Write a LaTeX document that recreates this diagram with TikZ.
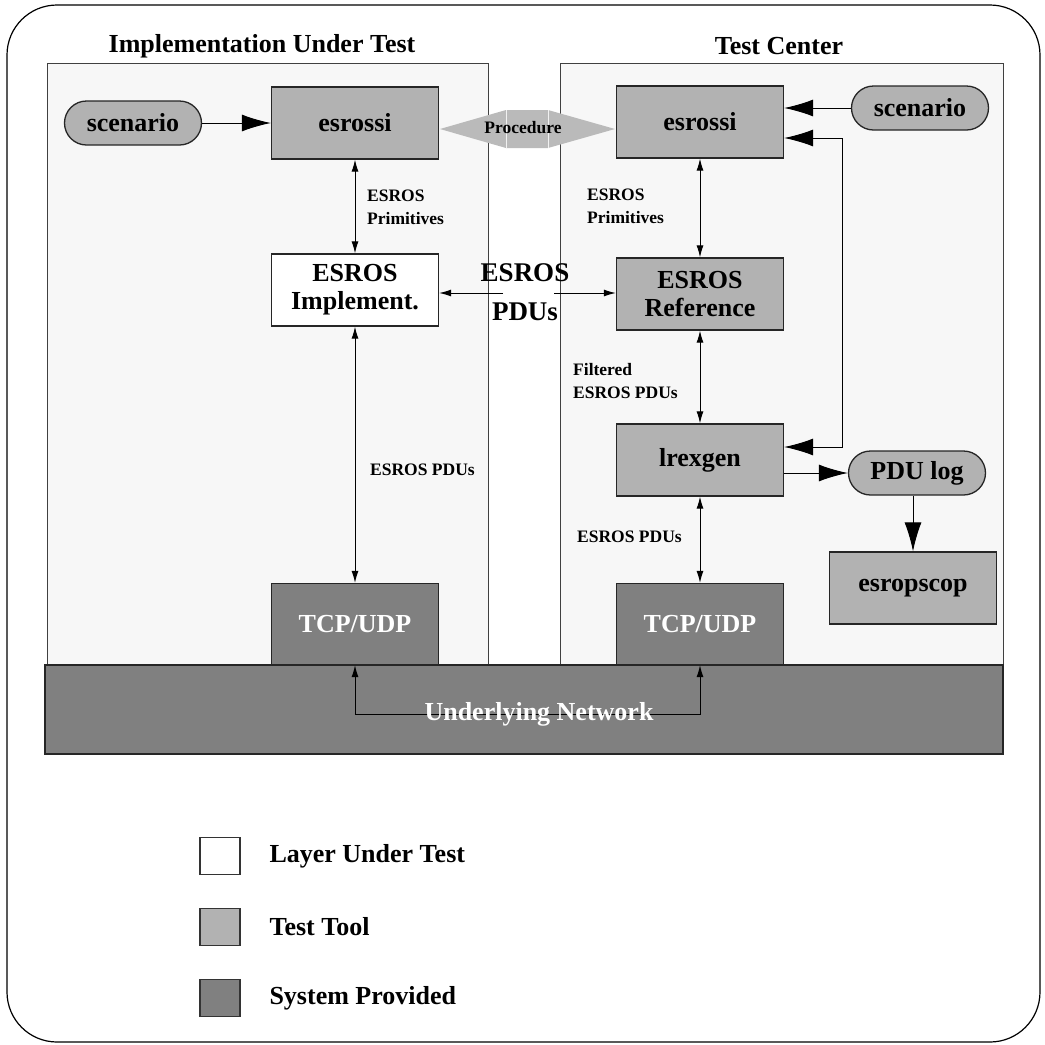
\documentclass[tikz,border=0pt]{standalone}
\usepackage{fontspec}
\setmainfont{Liberation Serif}
\usetikzlibrary{arrows.meta}
\definecolor{panelbg}{gray}{0.97}
\definecolor{toolgray}{gray}{0.70}
\definecolor{sysgray}{gray}{0.50}
\definecolor{procgray}{gray}{0.73}
\begin{document}
\begin{tikzpicture}[x=1pt, y=-1pt,
  bigtip/.tip={Latex[length=29pt,width=17pt]},
  smalltip/.tip={Latex[length=12pt,width=7pt]},
  bigtext/.style={font=\bfseries\fontsize{26}{28}\selectfont, align=center},
  smalltext/.style={font=\bfseries\fontsize{17.5}{23}\selectfont, align=left, anchor=west, inner sep=0pt},
  layerbox/.style={draw=black!85, line width=1.3pt, minimum width=167pt, minimum height=72pt, bigtext},
  toolbox/.style={layerbox, fill=toolgray},
  sysbox/.style={layerbox, fill=sysgray, text=white, minimum height=81pt},
  pillbox/.style={toolbox, rounded corners=22pt, minimum width=137pt, minimum height=44pt},
  legendbox/.style={draw=black!80, line width=1.2pt, minimum width=40pt, minimum height=37pt},
  duplex/.style={smalltip-smalltip, line width=1pt},
  feed/.style={-bigtip, line width=1pt}]
\useasboundingbox (0,0) rectangle (1045,1045);
% frame and the two sides
\draw[line width=1.2pt, rounded corners=50pt] (7,5) rectangle (1040,1042);
\filldraw[fill=panelbg, draw=black!75, line width=0.8pt] (47,63) rectangle (488,665);
\filldraw[fill=panelbg, draw=black!75, line width=0.8pt] (560,63) rectangle (1003,665);
\filldraw[fill=sysgray, draw=black!85, line width=1.3pt] (45,665) rectangle (1003,754);
\node[bigtext] (iuttitle) at (262,46) {Implementation Under Test};
\node[bigtext] (tctitle) at (779,46) {Test Center};
% procedure link
\fill[procgray] (440,129) -- (506,110) -- (548,110) -- (615,129) -- (548,148) -- (506,148) -- cycle;
\draw[white!80!procgray, line width=0.8pt] (506,110) -- (506,148) (548,110) -- (548,148);
\node[smalltext, anchor=center] (proc) at (523,128) {Procedure};
% implementation side
\node[pillbox] (lscen) at (133,123) {scenario};
\node[toolbox] (lesrossi) at (355,123) {esrossi};
\node[layerbox, fill=white] (limpl) at (355,290) {ESROS\\Implement.};
\node[sysbox] (ltcp) at (355,624) {TCP/UDP};
\node[smalltext] (lprim) at (367,207) {ESROS\\Primitives};
\node[smalltext] (lpdus) at (370,470) {ESROS PDUs};
% test center side
\node[pillbox] (rscen) at (920,108) {scenario};
\node[toolbox] (rsrossi) at (700,122) {esrossi};
\node[toolbox] (rref) at (700,294) {ESROS\\Reference};
\node[toolbox] (lrexgen) at (700,460) {lrexgen};
\node[sysbox] (rtcp) at (700,624) {TCP/UDP};
\node[pillbox] (pdulog) at (917,473) {PDU log};
\node[toolbox] (esropscop) at (913,588) {esropscop};
\node[smalltext] (rprim) at (587,206) {ESROS\\Primitives};
\node[smalltext] (filt) at (573,381) {Filtered\\ESROS PDUs};
\node[smalltext] (rpdus) at (577,537) {ESROS PDUs};
% connectors
\draw[feed] (lscen) -- (lesrossi);
\draw[feed] (rscen.west) -- (rscen.west -| rsrossi.east);
\coordinate (fbtop) at (842,138);
\coordinate (fbbot) at (842,447);
\draw[bigtip-bigtip, line width=1pt] (fbbot -| lrexgen.east) -- (fbbot) -- (fbtop) -- (fbtop -| rsrossi.east);
\draw[feed] (lrexgen.east |- pdulog.west) -- (pdulog.west);
\draw[feed] (esropscop.north |- pdulog.south) -- (esropscop.north);
\draw[duplex] (lesrossi) -- (limpl);
\draw[duplex] (limpl) -- (ltcp);
\draw[duplex] (rsrossi) -- (rref);
\draw[duplex] (rref) -- (lrexgen);
\draw[duplex] (lrexgen) -- (rtcp);
\coordinate (gapw) at (503,293);
\coordinate (gape) at (554,293);
\draw[-smalltip, line width=1pt] (gapw) -- (gapw -| limpl.east);
\draw[-smalltip, line width=1pt] (gape) -- (gape -| rref.west);
\node[bigtext, font=\bfseries\fontsize{27}{39}\selectfont] (pdus) at (525,292) {ESROS\\PDUs};
\coordinate (netmid) at (539,714);
\draw[duplex] (ltcp.south) |- (netmid) -| (rtcp.south);
\node[bigtext, text=white] (netlbl) at (netmid) {Underlying Network};
% legend
\foreach \shade/\name/\y in {white/Layer Under Test/856, toolgray/Test Tool/927, sysgray/System Provided/998}
  \node[legendbox, fill=\shade] (key\y) at (220,\y) {}
    node[bigtext, anchor=west] (keytext\y) at (266,\y) {\name};
\end{tikzpicture}
\end{document}
